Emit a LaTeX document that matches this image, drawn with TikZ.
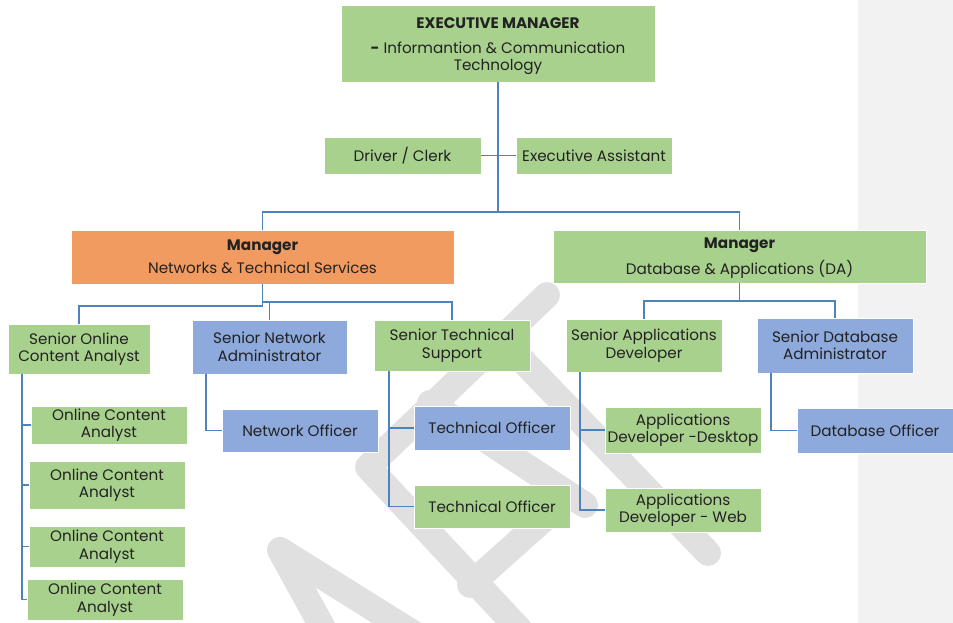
\documentclass[tikz,border=0pt]{standalone}
\usepackage{fontspec}
\setmainfont{Poppins}
\definecolor{gbox}{HTML}{A9D18E}
\definecolor{bbox}{HTML}{8EA9DB}
\definecolor{obox}{HTML}{F29B61}
\definecolor{conncol}{HTML}{4F81BD}
\definecolor{wmark}{HTML}{E0E0E0}
\definecolor{strip}{HTML}{F2F2F2}
\definecolor{txt}{HTML}{222222}
\tikzset{
  box/.style={draw=white, line width=0.8pt, inner sep=0pt, align=center,
    font=\fontsize{15.2}{17.5}\selectfont, text=txt},
  gb/.style={box, fill=gbox},
  bb/.style={box, fill=bbox},
  ob/.style={box, fill=obox},
  conn/.style={draw=conncol, line width=1.9pt},
  wm/.style={draw=wmark, line width=26pt, line cap=round, line join=round}
}
\begin{document}
\begin{tikzpicture}[x=1pt,y=-1pt]
\useasboundingbox (0,0) rectangle (953,623);
\fill[strip] (858,0) rectangle (953,623);
% watermark
\begin{scope}
\clip (0,0) rectangle (953,623);
\draw[wm] (547,295) -- (368,467) -- (548,660);
\draw[wm] (470,585) -- (545,518);
\draw[wm] (430,403) -- (585,505);
\draw[wm] (522,360) -- (708,553);
\draw[wm] (335,650) -- (280,550) -- (440,650);
\end{scope}
% nodes
\node[gb, minimum width=314pt, minimum height=77pt] (exec) at (498,43.5)
  {\rule{0pt}{17pt}\textbf{EXECUTIVE MANAGER}\\[7pt]\textbf{-} Informantion \& Communication\\Technology};
\node[gb, minimum width=157pt, minimum height=37pt] (driver) at (402.5,155.5) {Driver / Clerk};
\node[gb, minimum width=156pt, minimum height=37pt] (assist) at (594,155.5) {Executive Assistant};
\node[ob, minimum width=383pt, minimum height=54pt] (mnts) at (262.5,257)
  {\textbf{Manager}\\[6pt]Networks \& Technical Services};
\node[gb, minimum width=373pt, minimum height=53pt] (mda) at (739.5,256.5)
  {\rule{0pt}{14pt}\textbf{Manager}\\[6pt]Database \& Applications (DA)};
\node[gb, minimum width=142pt, minimum height=50pt] (soca) at (79,349) {Senior Online\\Content Analyst};
\node[bb, minimum width=155pt, minimum height=54pt] (sna) at (269.5,347) {Senior Network\\Administrator};
\node[gb, minimum width=156pt, minimum height=51pt] (sts) at (452,345.5) {Senior Technical\\Support};
\node[gb, minimum width=156pt, minimum height=53pt] (sad) at (644,345.5) {Senior Applications\\Developer};
\node[bb, minimum width=156pt, minimum height=55pt] (sdba) at (835,345.5) {Senior Database\\Administrator};
\node[bb, minimum width=156pt, minimum height=43pt] (no) at (300,430.5) {Network Officer};
\node[gb, minimum width=156pt, minimum height=38pt] (oca1) at (109,425) {Online Content\\Analyst};
\node[gb, minimum width=156pt, minimum height=48pt] (oca2) at (107,485) {Online Content\\Analyst};
\node[gb, minimum width=156pt, minimum height=41pt] (oca3) at (107,546.5) {Online Content\\Analyst};
\node[gb, minimum width=156pt, minimum height=41pt] (oca4) at (105,599.5) {Online Content\\Analyst};
\node[bb, minimum width=156pt, minimum height=44pt] (to1) at (492,428) {Technical Officer};
\node[gb, minimum width=156pt, minimum height=43pt] (to2) at (492,506.5) {Technical Officer};
\node[gb, minimum width=156pt, minimum height=46pt] (add) at (683,430) {Applications\\Developer -Desktop};
\node[gb, minimum width=156pt, minimum height=44pt] (adw) at (683,510) {Applications\\Developer - Web};
\node[bb, minimum width=156pt, minimum height=45pt] (dbo) at (875,430.5) {Database Officer};
% connectors
\coordinate (j0) at (498,212);
\draw[conn] (exec.south) -- (j0);
\draw[conn] (driver.east) -- (assist.west);
\draw[conn] (mnts.north) -- ++(0,-18) -| (mda.north);
\draw[conn] (mnts.south) -- ++(0,22) -| (soca.north);
\draw[conn] (mnts.south) ++(0,18) -| (sts.north);
\draw[conn] (sna.north) -- ++(0,-18);
\draw[conn] (mda.south) -- ++(0,18) -| (sad.north);
\draw[conn] (mda.south) ++(0,18) -| (sdba.north);
\coordinate (sx) at ([xshift=14pt]soca.south west);
\draw[conn] (sx) |- (oca4.west);
\foreach \n in {oca1,oca2,oca3} \draw[conn] (\n.west) -- (\n.west -| sx);
\draw[conn] ([xshift=14pt]sna.south west) |- (no.west);
\coordinate (tx) at ([xshift=15pt]sts.south west);
\draw[conn] (tx) |- (to2.west);
\draw[conn] (to1.west) -- (to1.west -| tx);
\coordinate (ax) at ([xshift=14.5pt]sad.south west);
\draw[conn] (ax) |- (adw.west);
\draw[conn] (add.west) -- (add.west -| ax);
\draw[conn] ([xshift=14.5pt]sdba.south west) |- (dbo.west);
\end{tikzpicture}
\end{document}
